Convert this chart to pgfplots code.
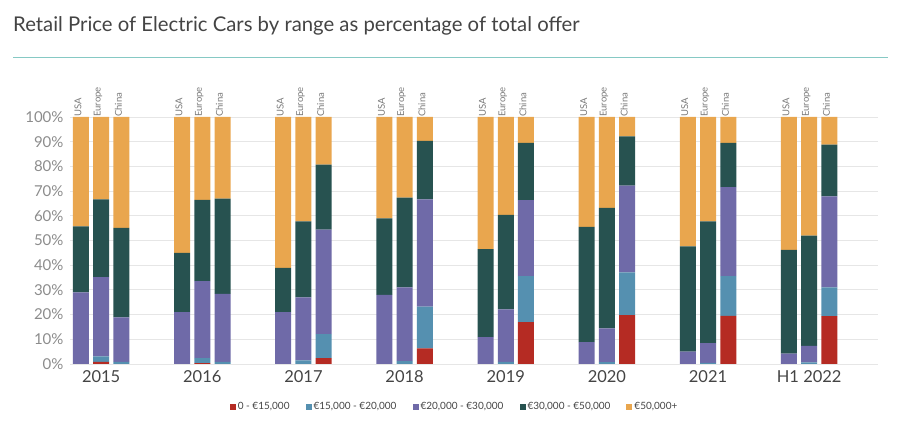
\documentclass[border=0pt]{standalone}
\usepackage{pgfplots}
\pgfplotsset{compat=1.18}
\usepackage{pgfplotstable}
\usepackage{fontspec}
\setmainfont{Lato}
\definecolor{cred}{HTML}{B52B23}
\definecolor{cblue}{HTML}{5590B0}
\definecolor{cpurple}{HTML}{6F6AA8}
\definecolor{cteal}{HTML}{275250}
\definecolor{corange}{HTML}{E9A64E}
\definecolor{ctitle}{HTML}{444444}
\definecolor{ctick}{HTML}{8C8C8C}
\definecolor{clab}{HTML}{7A7A7A}
\definecolor{crule}{HTML}{86C9C4}
\definecolor{cgrid}{HTML}{E6E6E6}

% x: group*5 + (0 USA, 1 Europe, 2 China)
\pgfplotstableread{
x y
0 0
1 0.9
2 0
5 0
6 0.4
7 0
10 0
11 0
12 2.4
15 0
16 0
17 6.3
20 0
21 0
22 17.0
25 0
26 0
27 19.8
30 0
31 0
32 19.5
35 0
36 0
37 19.4
}\tred
\pgfplotstableread{
x y
0 0
1 2.2
2 0.9
5 0
6 2.0
7 0.9
10 0
11 1.5
12 9.7
15 0
16 1.2
17 16.9
20 0
21 0.9
22 18.6
25 0
26 0.8
27 17.3
30 0
31 0.5
32 16.1
35 0
36 0.7
37 11.6
}\tblue
\pgfplotstableread{
x y
0 29.0
1 32.1
2 18.0
5 21.0
6 31.2
7 27.5
10 21.0
11 25.5
12 42.3
15 28.0
16 29.8
17 43.4
20 10.9
21 21.2
22 30.7
25 8.9
26 13.6
27 35.1
30 5.0
31 8.0
32 36.0
35 4.2
36 6.6
37 36.9
}\tpurple
\pgfplotstableread{
x y
0 26.7
1 31.4
2 36.2
5 24.0
6 32.8
7 38.6
10 17.9
11 30.7
12 26.3
15 31.0
16 36.4
17 23.7
20 35.6
21 38.3
22 23.2
25 46.6
26 48.8
27 20.0
30 42.6
31 49.2
32 17.9
35 42.0
36 44.7
37 20.9
}\tteal
\pgfplotstableread{
x y
0 44.3
1 33.4
2 44.9
5 55.0
6 33.6
7 33.0
10 61.1
11 42.3
12 19.3
15 41.0
16 32.6
17 9.7
20 53.5
21 39.6
22 10.5
25 44.5
26 36.8
27 7.8
30 52.4
31 42.3
32 10.5
35 53.8
36 48.0
37 11.2
}\torange

\begin{document}
\begin{tikzpicture}
\path[use as bounding box] (0,0) rectangle (908pt,442pt);
\node[anchor=base west, text=ctitle, font=\fontsize{20.3}{24}\selectfont, inner sep=0pt] at (13pt,410pt) {Retail Price of Electric Cars by range as percentage of total offer};
\draw[crule, line width=1pt] (13pt,384.5pt) -- (888pt,384.5pt);
\begin{axis}[
  at={(70pt,78pt)}, anchor=south west,
  scale only axis, width=808pt, height=247pt,
  xmin=-0.54, xmax=39.4, ymin=0, ymax=100,
  ybar stacked, bar width=16pt,
  axis line style={draw=none},
  clip=false,
  ymajorgrids, grid style={cgrid, line width=0.8pt},
  ytick={0,10,...,100},
  yticklabel={\pgfmathprintnumber{\tick}\%},
  /pgf/number format/assume math mode=true,
  yticklabel style={text=ctick, font=\fontsize{15}{18}\selectfont, xshift=-3pt},
  xtick={1,6,11,16,21,26,31,36},
  xticklabels={2015,2016,2017,2018,2019,2020,2021,H1 2022},
  xticklabel style={text=ctitle, font=\fontsize{16.5}{19}\selectfont, yshift=-3.5pt},
  major tick length=0pt,
  tick style={draw=none},
  legend columns=5,
  legend style={draw=none, fill=none, at={(axis description cs:0.476,-0.174)}, anchor=center,
    font=\fontsize{10}{12}\selectfont, text=ctitle,
    /tikz/every even column/.append style={column sep=14pt}},
  legend image code/.code={\fill[#1] (0pt,-3pt) rectangle (6pt,3pt);},
]
\addplot[fill=cred, draw=none] table {\tred};
\addplot[fill=cblue, draw=none] table {\tblue};
\addplot[fill=cpurple, draw=none] table {\tpurple};
\addplot[fill=cteal, draw=none] table {\tteal};
\addplot[fill=corange, draw=none] table {\torange};
\legend{0 - €15{,}000, €15{,}000 - €20{,}000, €20{,}000 - €30{,}000, €30{,}000 - €50{,}000, €50{,}000+}
\foreach \g in {0,5,10,15,20,25,30,35}{
  \pgfmathtruncatemacro{\ga}{\g+1}
  \pgfmathtruncatemacro{\gb}{\g+2}
  \edef\temp{\noexpand\node[rotate=90, anchor=west, text=clab, font=\noexpand\fontsize{9.5}{11}\noexpand\selectfont, inner sep=0pt] at (axis cs:\g,100) [yshift=3pt] {USA};
  \noexpand\node[rotate=90, anchor=west, text=clab, font=\noexpand\fontsize{9.5}{11}\noexpand\selectfont, inner sep=0pt] at (axis cs:\ga,100) [yshift=3pt] {Europe};
  \noexpand\node[rotate=90, anchor=west, text=clab, font=\noexpand\fontsize{9.5}{11}\noexpand\selectfont, inner sep=0pt] at (axis cs:\gb,100) [yshift=3pt] {China};}
  \temp
}
\end{axis}
\end{tikzpicture}
\end{document}
